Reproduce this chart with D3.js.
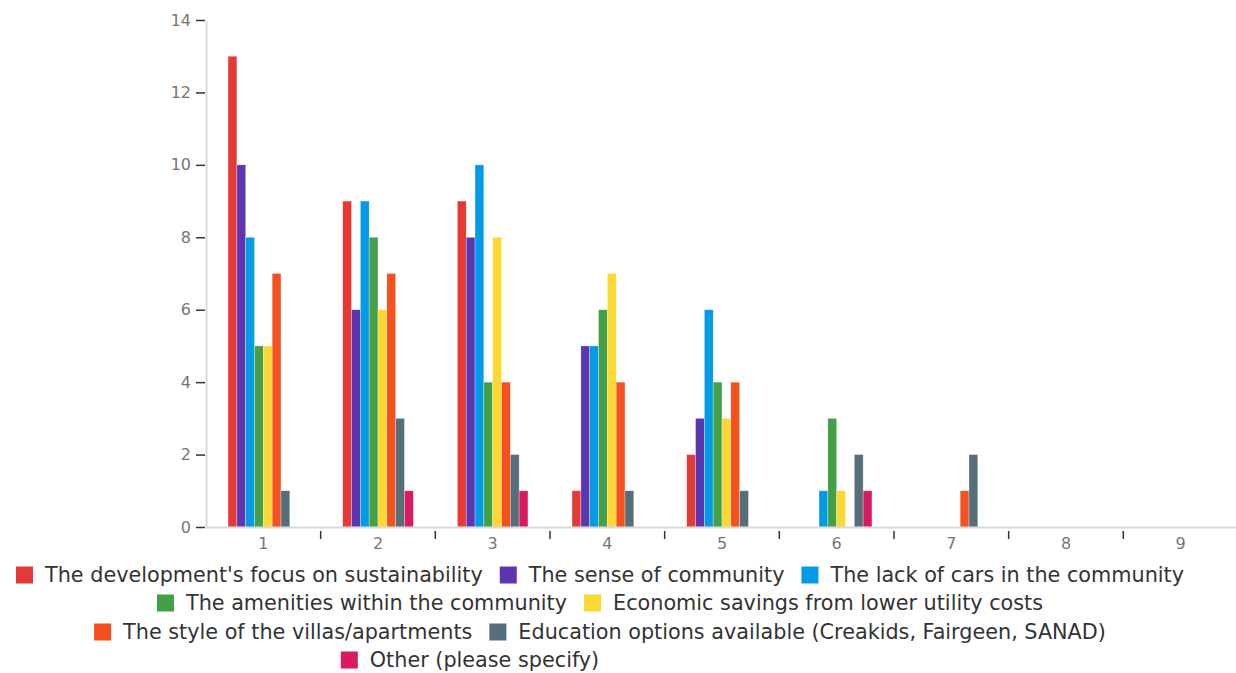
<!DOCTYPE html>
<html>
<head>
<meta charset="utf-8">
<script src="https://cdn.jsdelivr.net/npm/d3@7"></script>
<style>
    body { margin: 0; background: #fff; }
    text { font-family: "DejaVu Sans", sans-serif; }
    .axis .domain { stroke: #d9d9d9; stroke-width: 2; }
    .axis .tick line { stroke: #333; stroke-width: 1.5; }
    .axis .tick text { fill: #767676; font-size: 16px; }
</style>
</head>
<body>
<div id="chart"></div>
<script>

// categories on the x axis
let categories = ["1", "2", "3", "4", "5", "6", "7", "8", "9"];

// series names (legend order)
let seriesNames = [
    "The development's focus on sustainability",
    "The sense of community",
    "The lack of cars in the community",
    "The amenities within the community",
    "Economic savings from lower utility costs",
    "The style of the villas/apartments",
    "Education options available (Creakids, Fairgeen, SANAD)",
    "Other (please specify)"
];

let seriesColors = ["#e53935", "#5e35b1", "#039be5", "#43a047", "#fdd835", "#f4511e", "#546e7a", "#d81b60"];

// values per series, one per category
let sustainability = [13, 9, 9, 1, 2, 0, 0, 0, 0];
let community      = [10, 6, 8, 5, 3, 0, 0, 0, 0];
let lackOfCars     = [8, 9, 10, 5, 6, 1, 0, 0, 0];
let amenities      = [5, 8, 4, 6, 4, 3, 0, 0, 0];
let savings        = [5, 6, 8, 7, 3, 1, 0, 0, 0];
let villaStyle     = [7, 7, 4, 4, 4, 0, 1, 0, 0];
let education      = [1, 3, 2, 1, 1, 2, 2, 0, 0];
let other          = [0, 1, 1, 0, 0, 1, 0, 0, 0];

let seriesValues = [sustainability, community, lackOfCars, amenities, savings, villaStyle, education, other];

let yTicks = [0, 2, 4, 6, 8, 10, 12, 14];

// legend rows as laid out in the picture
let legendRows = [[0, 1, 2], [3, 4], [5, 6], [7]];

let width = 1236, height = 673;

let svg = d3.select("#chart").append("svg")
    .attr("width", width)
    .attr("height", height);

// scales
let x0 = d3.scaleBand().domain(categories).range([206, 1238]).paddingInner(0);
let x1 = d3.scaleBand().domain(d3.range(seriesNames.length)).range([0, x0.bandwidth()]).paddingOuter(2.5).paddingInner(0);
let y = d3.scaleLinear().domain([0, 14]).range([527, 20]);

// bars
let groups = svg.append("g").selectAll("g")
    .data(categories)
    .join("g")
    .attr("transform", d => `translate(${x0(d)},0)`);

groups.selectAll("rect")
    .data((c, ci) => seriesValues.map((vals, si) => ({si: si, value: vals[ci]})).filter(d => d.value > 0))
    .join("rect")
    .attr("x", d => x1(d.si))
    .attr("width", x1.bandwidth())
    .attr("y", d => y(d.value))
    .attr("height", d => y(0) - y(d.value))
    .attr("fill", d => seriesColors[d.si])
    .attr("stroke", "#fff")
    .attr("stroke-opacity", 0.5)
    .attr("stroke-width", 0.6);

// y axis
let yAxis = svg.append("g")
    .attr("class", "axis")
    .attr("transform", "translate(206,0)")
    .call(d3.axisLeft(y).tickValues(yTicks).tickSize(9).tickSizeOuter(0).tickPadding(6));
yAxis.selectAll(".tick line").attr("x2", -10).attr("x1", -1);

// x axis: labels centred, ticks on boundaries
let xAxis = svg.append("g")
    .attr("class", "axis")
    .attr("transform", "translate(0,527)")
    .call(d3.axisBottom(x0).tickSize(0).tickSizeOuter(0).tickPadding(14));
xAxis.selectAll(".tick text").attr("dy", "0.5em");

svg.append("g")
    .selectAll("line")
    .data(categories.slice(1))
    .join("line")
    .attr("x1", d => x0(d))
    .attr("x2", d => x0(d))
    .attr("y1", 531)
    .attr("y2", 539)
    .attr("stroke", "#333")
    .attr("stroke-width", 1.5);

// legend
let rowCenters = [600, 600, 600, 470];
let rowY = [575, 603, 632, 660];
let swatch = 17, swatchGap = 12, itemGap = 17;

// measure first legend label to size the font so row 1 spans ~1175px
let probe = svg.append("text").style("font-size", "17px").text(seriesNames[0]);
let fontSize = 17 * 438 / probe.node().getComputedTextLength();
probe.remove();

legendRows.forEach((row, ri) => {
    let g = svg.append("g");
    let cursor = 0;
    row.forEach((si, k) => {
        if (k > 0) cursor += itemGap;
        g.append("rect")
            .attr("x", cursor)
            .attr("y", rowY[ri] - swatch / 2)
            .attr("width", swatch)
            .attr("height", swatch)
            .attr("fill", seriesColors[si]);
        cursor += swatch + swatchGap;
        let t = g.append("text")
            .attr("x", cursor)
            .attr("y", rowY[ri])
            .attr("dy", "0.36em")
            .attr("fill", "#333")
            .style("font-size", fontSize + "px")
            .text(seriesNames[si]);
        cursor += t.node().getComputedTextLength();
    });
    g.attr("transform", `translate(${rowCenters[ri] - cursor / 2},0)`);
});

</script>
</body>
</html>
